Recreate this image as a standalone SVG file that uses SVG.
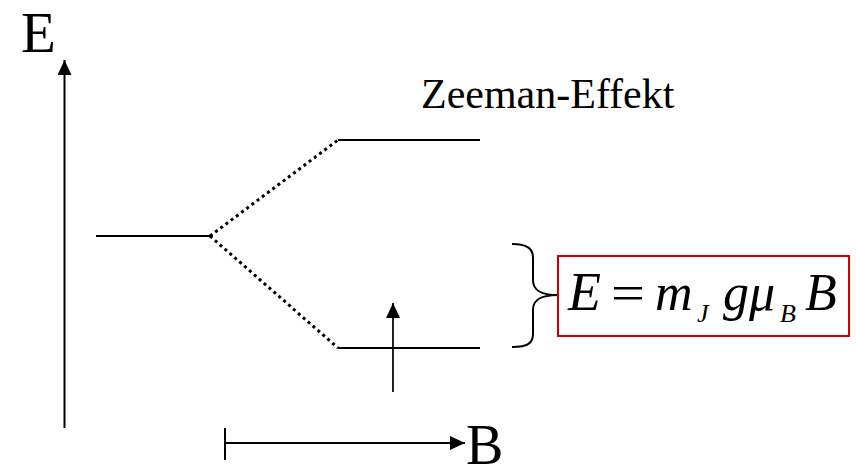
<svg xmlns="http://www.w3.org/2000/svg" width="856" height="472" viewBox="0 0 856 472">
<style>
.ln{stroke:#000;stroke-width:2;fill:none}
.dot{stroke:#000;stroke-width:3;stroke-dasharray:3 3.5;fill:none}
.t{font-family:"Liberation Serif","Times New Roman",serif;fill:#000}
.m{font-family:"Liberation Serif","Times New Roman",serif;font-style:italic;fill:#000}
</style>
<defs>
<marker id="ah" markerWidth="15" markerHeight="14" refX="15" refY="7" orient="auto" markerUnits="userSpaceOnUse">
<path d="M0,0 L15,7 L0,14 Z" fill="#000"/>
</marker>
</defs>
<rect width="856" height="472" fill="#fff"/>
<g id="connectors">
<line class="ln" x1="64.5" y1="428" x2="64.5" y2="60" marker-end="url(#ah)"/>
<line class="ln" x1="225" y1="443" x2="465" y2="443" marker-end="url(#ah)"/>
<line class="ln" x1="225" y1="428" x2="225" y2="460"/>
<line class="dot" x1="210" y1="236" x2="338" y2="140"/>
<line class="dot" x1="210" y1="236" x2="338" y2="348"/>
<line x1="393" y1="392" x2="393" y2="303" stroke="#222" stroke-width="2" marker-end="url(#ah)"/>
<path class="ln" d="M512,244 C528,244 533,249 533,258 L533,280 C533,290 540,295 558,295 C540,295 533,300 533,310 L533,334 C533,343 528,347 512,347"/>
</g>
<g id="axis-E"><text class="t" x="21" y="52" font-size="57">E</text></g>
<g id="axis-B"><text class="t" x="466" y="464" font-size="56">B</text></g>
<g id="level-0"><line class="ln" x1="96" y1="236" x2="210" y2="236"/></g>
<g id="level-up"><line class="ln" x1="338" y1="140" x2="480" y2="140"/></g>
<g id="level-down"><line class="ln" x1="338" y1="348" x2="480" y2="348"/></g>
<g id="title"><text class="t" x="421" y="108" font-size="42">Zeeman-Effekt</text></g>
<g id="formula">
<rect x="558" y="256" width="291" height="80" fill="none" stroke="#d00000" stroke-width="2"/>
<text class="m" x="568" y="310" font-size="54">E</text>
<text class="t" x="611" y="310" font-size="50" textLength="34" lengthAdjust="spacingAndGlyphs">=</text>
<text class="m" x="655" y="310" font-size="52">m</text>
<text class="m" x="697" y="322" font-size="26">J</text>
<text class="m" x="723" y="310" font-size="52">g</text>
<text class="m" x="749" y="310" font-size="52">μ</text>
<text class="m" x="780" y="322" font-size="26">B</text>
<text class="m" x="805" y="310" font-size="52">B</text>
</g>
</svg>
